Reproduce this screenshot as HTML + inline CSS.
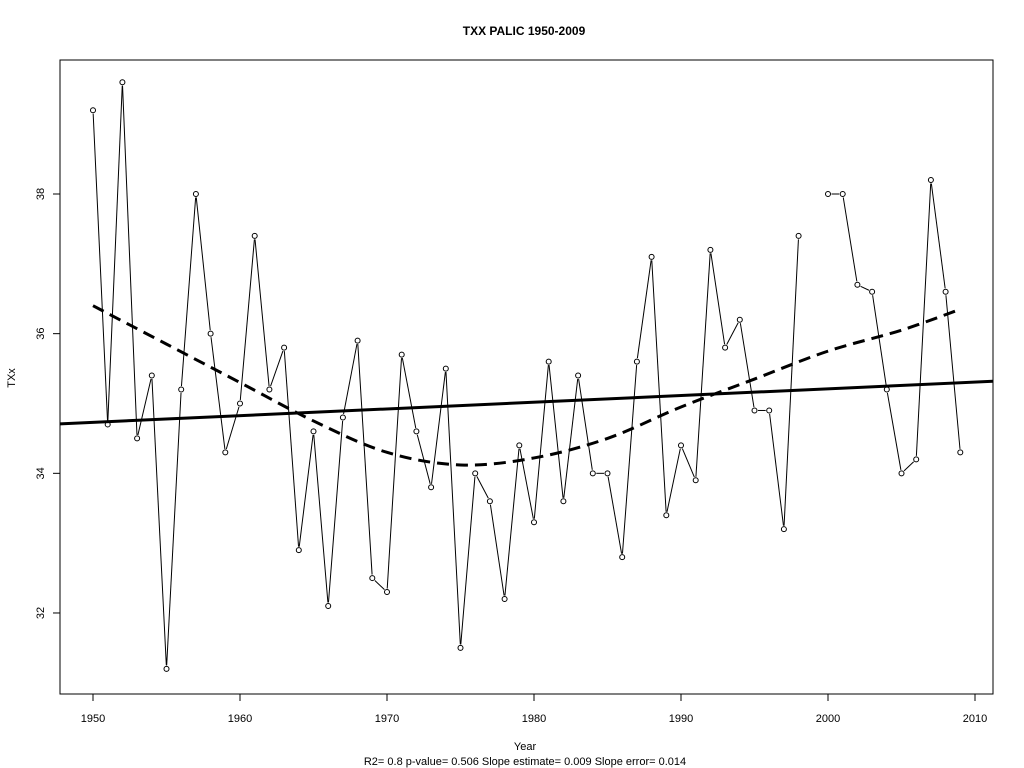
<!DOCTYPE html>
<html><head><meta charset="utf-8"><style>
body{margin:0;background:#fff}
svg{display:block;font-family:"Liberation Sans",Arial,sans-serif}
</style></head><body>
<svg id="chart" width="1024" height="768" viewBox="0 0 1024 768">
<rect x="0" y="0" width="1024" height="768" fill="#fff"/>
<text x="524" y="35" font-size="12" font-weight="bold" text-anchor="middle">TXX   PALIC 1950-2009</text>
<rect x="60" y="60" width="933" height="634" fill="none" stroke="#000" stroke-width="1"/>
<g id="xaxis"></g>
<g id="yaxis"></g>
<text x="525" y="750" font-size="11" text-anchor="middle">Year</text>
<text x="525" y="765" font-size="11" text-anchor="middle">R2= 0.8  p-value= 0.506  Slope estimate= 0.009  Slope error= 0.014</text>
<text x="15" y="378" font-size="11" text-anchor="middle" transform="rotate(-90 15 378)">TXx</text>
<g id="marks"></g>
</svg>
<script>
const years=[1950,1951,1952,1953,1954,1955,1956,1957,1958,1959,1960,1961,1962,1963,1964,1965,1966,1967,1968,1969,1970,1971,1972,1973,1974,1975,1976,1977,1978,1979,1980,1981,1982,1983,1984,1985,1986,1987,1988,1989,1990,1991,1992,1993,1994,1995,1996,1997,1998,1999,2000,2001,2002,2003,2004,2005,2006,2007,2008,2009];
const txx=[39.2,34.7,39.6,34.5,35.4,31.2,35.2,38.0,36.0,34.3,35.0,37.4,35.2,35.8,32.9,34.6,32.1,34.8,35.9,32.5,32.3,35.7,34.6,33.8,35.5,31.5,34.0,33.6,32.2,34.4,33.3,35.6,33.6,35.4,34.0,34.0,32.8,35.6,37.1,33.4,34.4,33.9,37.2,35.8,36.2,34.9,34.9,33.2,37.4,null,38.0,38.0,36.7,36.6,35.2,34.0,34.2,38.2,36.6,34.3];
const loessYears=[1950,1955,1960,1965,1970,1975,1980,1985,1990,1995,2000,2005,2009];
const loessVals=[36.4,35.85,35.3,34.75,34.3,34.12,34.22,34.5,34.95,35.35,35.75,36.05,36.35];
const trendIntercept1950=34.73;
const trendSlope=0.0096;
const xTicks=[1950,1960,1970,1980,1990,2000,2010];
const yTicks=[32,34,36,38];

const X=y=>93+(y-1950)*14.7;
const Y=v=>194-(v-38)*69.83;
const NS="http://www.w3.org/2000/svg";
function mk(tag,attrs,parent){const e=document.createElementNS(NS,tag);for(const k in attrs)e.setAttribute(k,attrs[k]);parent.appendChild(e);return e;}
const xa=document.getElementById('xaxis'),ya=document.getElementById('yaxis'),m=document.getElementById('marks');
xTicks.forEach(t=>{
  const l=mk('line',{x1:X(t),x2:X(t),y1:694,y2:701,stroke:'#000'},xa);
  
  
  const tx=mk('text',{x:X(t),y:722,'font-size':11,'text-anchor':'middle'},xa);tx.textContent=t;
  
  
});
yTicks.forEach(t=>{
  const l=mk('line',{x1:53,x2:60,y1:Y(t),y2:Y(t),stroke:'#000'},ya);
  
  
  const tx=mk('text',{x:44,y:Y(t),'font-size':11,'text-anchor':'middle',transform:`rotate(-90 44 ${Y(t)})`},ya);tx.textContent=t;
  
  
});
// series line with gaps (type b)
for(let i=0;i<years.length-1;i++){
  if(txx[i]==null||txx[i+1]==null)continue;
  const x1=X(years[i]),y1=Y(txx[i]),x2=X(years[i+1]),y2=Y(txx[i+1]);
  const d=Math.hypot(x2-x1,y2-y1);if(d<8)continue;
  const ux=(x2-x1)/d,uy=(y2-y1)/d,g=3.5;
  const l=mk('line',{x1:x1+ux*g,y1:y1+uy*g,x2:x2-ux*g,y2:y2-uy*g,stroke:'#000','stroke-width':1},m);
  
  
}
years.forEach((yr,i)=>{
  if(txx[i]==null)return;
  const c=mk('circle',{cx:X(yr),cy:Y(txx[i]),r:2.5,fill:'none',stroke:'#000','stroke-width':1},m);
  
  
});
// trend line
const tx0=1947.76,tx1=2011.22;
const tr=mk('line',{x1:X(tx0),y1:Y(trendIntercept1950+trendSlope*(tx0-1950)),x2:X(tx1),y2:Y(trendIntercept1950+trendSlope*(tx1-1950)),stroke:'#000','stroke-width':3},m);


// loess dashed
const pts=loessYears.map((y,i)=>[X(y),Y(loessVals[i])]);
let d='M'+pts[0].join(',');
for(let i=0;i<pts.length-1;i++){
  const p0=pts[Math.max(0,i-1)],p1=pts[i],p2=pts[i+1],p3=pts[Math.min(pts.length-1,i+2)];
  d+=` C${p1[0]+(p2[0]-p0[0])/6},${p1[1]+(p2[1]-p0[1])/6} ${p2[0]-(p3[0]-p1[0])/6},${p2[1]-(p3[1]-p1[1])/6} ${p2[0]},${p2[1]}`;
}
const lo=mk('path',{d:d,fill:'none',stroke:'#000','stroke-width':3,'stroke-dasharray':'12,7'},m);


</script>
</body></html>
